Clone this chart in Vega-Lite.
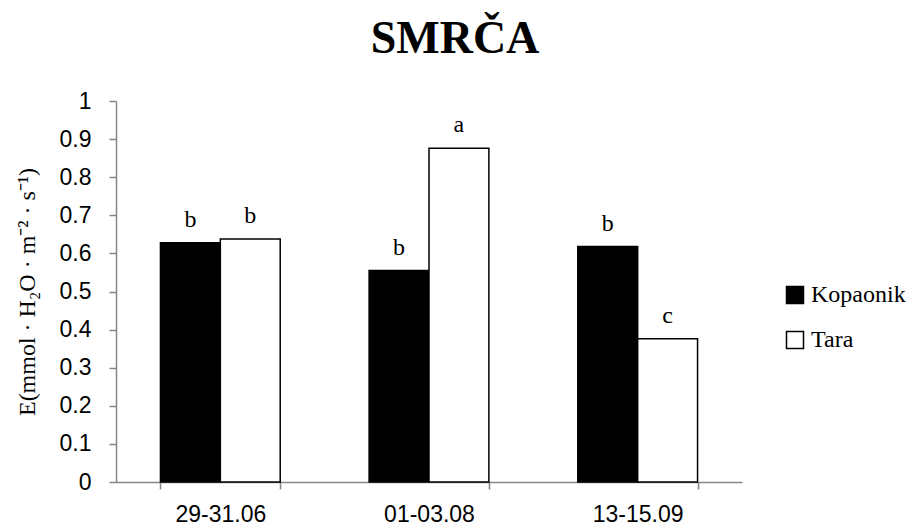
{
  "$schema": "https://vega.github.io/schema/vega-lite/v6.json",
  "width": 626,
  "height": 381,
  "autosize": "none",
  "padding": {"left": 116, "top": 101, "right": 172, "bottom": 47},
  "background": "white",
  "title": {
    "text": "SMRČA",
    "font": "Liberation Serif",
    "fontSize": 46,
    "fontWeight": "bold",
    "color": "black",
    "anchor": "middle",
    "dx": 26,
    "offset": 27
  },
  "data": {
    "values": [
      {"period": "29-31.06", "site": "Kopaonik", "E": 0.628, "letter": "b"},
      {"period": "29-31.06", "site": "Tara", "E": 0.638, "letter": "b"},
      {"period": "01-03.08", "site": "Kopaonik", "E": 0.555, "letter": "b"},
      {"period": "01-03.08", "site": "Tara", "E": 0.876, "letter": "a"},
      {"period": "13-15.09", "site": "Kopaonik", "E": 0.618, "letter": "b"},
      {"period": "13-15.09", "site": "Tara", "E": 0.376, "letter": "c"}
    ]
  },
  "encoding": {
    "x": {
      "field": "period",
      "type": "nominal",
      "sort": ["29-31.06", "01-03.08", "13-15.09"],
      "scale": {"paddingInner": 0.426, "paddingOuter": 0.213},
      "axis": {
        "title": null,
        "labelAngle": 0,
        "labelFont": "Liberation Sans",
        "labelFontSize": 23,
        "labelColor": "black",
        "labelPadding": 14,
        "tickBand": "extent",
        "tickSize": 7,
        "tickColor": "#868686",
        "domainColor": "#868686",
        "domainWidth": 1.5,
        "tickWidth": 1.5
      }
    },
    "xOffset": {
      "field": "site",
      "type": "nominal",
      "sort": ["Kopaonik", "Tara"],
      "scale": {"paddingInner": 0, "paddingOuter": 0}
    },
    "y": {
      "field": "E",
      "type": "quantitative",
      "scale": {"domain": [0, 1], "nice": false},
      "axis": {
        "title": "E(mmol · H₂O · m⁻² · s⁻¹)",
        "titleFont": "Liberation Serif",
        "titleFontSize": 24,
        "titleFontWeight": "normal",
        "titleColor": "black",
        "titlePadding": 20,
        "values": [0, 0.1, 0.2, 0.3, 0.4, 0.5, 0.6, 0.7, 0.8, 0.9, 1],
        "format": "~g",
        "labelFont": "Liberation Sans",
        "labelFontSize": 23,
        "labelColor": "black",
        "labelPadding": 18,
        "tickSize": 7,
        "tickColor": "#868686",
        "tickWidth": 1.5,
        "domainColor": "#868686",
        "domainWidth": 1.5,
        "grid": false
      }
    }
  },
  "layer": [
    {
      "mark": {"type": "bar", "stroke": "black", "strokeWidth": 1.5},
      "encoding": {
        "fill": {
          "field": "site",
          "type": "nominal",
          "sort": ["Kopaonik", "Tara"],
          "scale": {"domain": ["Kopaonik", "Tara"], "range": ["black", "white"]},
          "legend": {
            "title": null,
            "orient": "none",
            "legendX": 667,
            "legendY": 182,
            "symbolType": "square",
            "symbolSize": 289,
            "symbolStrokeColor": "black",
            "symbolStrokeWidth": 1.5,
            "labelFont": "Liberation Serif",
            "labelFontSize": 24,
            "labelColor": "black",
            "labelOffset": 4,
            "rowPadding": 21
          }
        }
      }
    },
    {
      "mark": {
        "type": "text",
        "font": "Liberation Serif",
        "fontSize": 24,
        "color": "black",
        "baseline": "alphabetic",
        "dy": -16
      },
      "encoding": {
        "text": {"field": "letter"}
      }
    }
  ],
  "config": {
    "view": {"stroke": null}
  }
}
